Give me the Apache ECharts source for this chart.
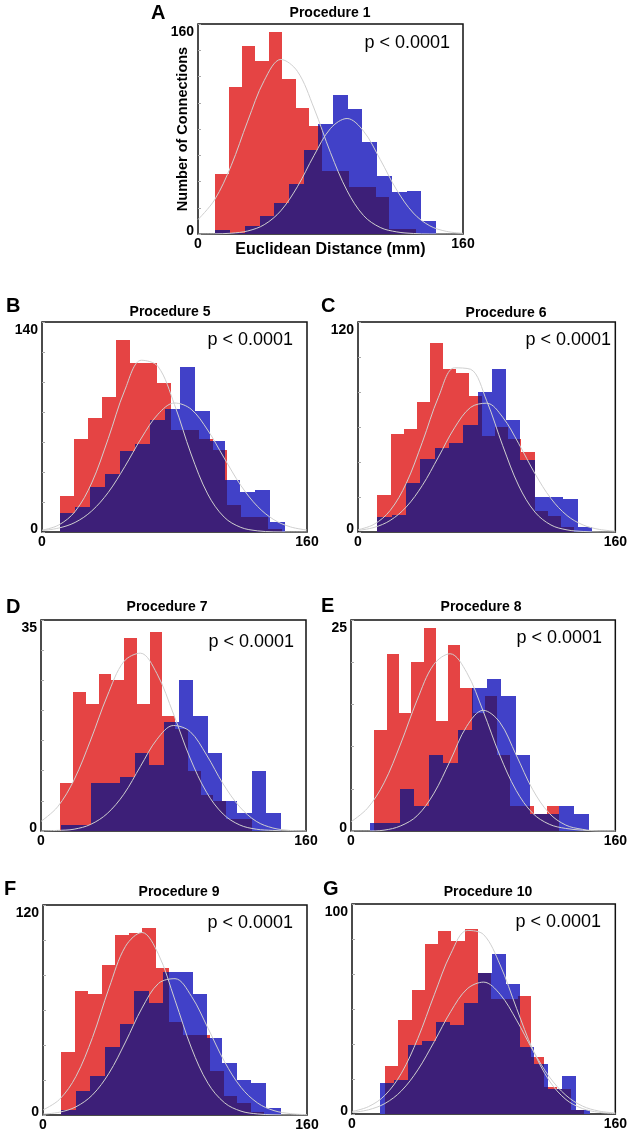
<!DOCTYPE html>
<html>
<head>
<meta charset="utf-8">
<script src="https://cdn.jsdelivr.net/npm/echarts@6/dist/echarts.min.js"></script>
<style>html,body{margin:0;padding:0;background:#fff}#c{width:630px;height:1148px}</style>
</head>
<body>
<div id="c"></div>
<script>
// ---------- data ----------
const fitX = [0,10,20,30,40,50,60,70,80,90,100,110,120,130,140,150,160];

// Procedure 1
const p1RedBin = [10.5, 8.07];
const p1Red = [46,112,143,132,154,118,96,82,48,48,36,36,28,4,4];
const p1BlueBin = [10.5, 8.88];
const p1Blue = [3,1,6,14,24,38,64,84,106,95,70,44,32,33,10];
const p1RedFit = [11,26,52,86,117,133,124,96,62,33,14,5,1.6,0.4,0,0,0];
const p1BlueFit = [0,0.1,0.6,2.3,7.1,17.7,36,59.7,80.4,88,78.3,56.8,33.5,16,6.2,2,0.5];

// Procedure 5
const p5RedBin = [11.1, 8.37];
const p5Red = [24,62,76,90,128,113,113,99.5,68,68,62,55,18,10,10,2];
const p5BlueBin = [11.1, 9.06];
const p5Blue = [13,17,30,39,54,59,75,82,110,81,61,35,27,28,7];
const p5RedFit = [1.2,4.6,13.7,32.7,62.3,94.6,114.5,110.4,84.9,52,25.4,9.9,3.1,0.8,0.1,0,0];
const p5BlueFit = [0.9,2.6,6.4,14,26.4,43.6,62.6,78.5,86,81.9,68,49.3,31.1,17.2,8.2,3.4,1.3];

// Procedure 6
const p6RedBin = [12.1, 8.14];
const p6Red = [21,56,59,74.5,108,93,91,78,55,60,53,46,12,9,3];
const p6BlueBin = [12.1, 8.89];
const p6Blue = [8.6,10,28,41.5,48,50.6,61,80,93,64,41,20,20,19,3];
const p6RedFit = [1.3,4.4,12.3,27.8,51.3,77,93.8,93,75,49.3,26.3,11.4,4,1.2,0.3,0,0];
const p6BlueFit = [0.9,2.6,6.6,14.3,26.6,42.8,59.5,71.2,73.6,65.6,50.4,33.4,19.1,9.4,4,1.5,0.5];

// Procedure 7
const p7RedBin = [11.7, 7.7];
const p7Red = [8,23,21,26,25,32,21,33,19,17,10,6,5,2,2];
const p7BlueBin = [12.3, 8.84];
const p7Blue = [1,1,8,8,9,13,11,18,25,19,13,5,3,10,3];
const p7RedFit = [1.6,4,8.5,15.1,22.4,28.1,29.5,26.1,19.4,12.1,6.4,2.8,1,0.3,0.1,0,0];
const p7BlueFit = [0,0.1,0.3,1.1,2.9,6.1,10.7,15.2,17.5,16.5,12.6,7.8,4,1.6,0.5,0.1,0];

// Procedure 8
const p8RedBin = [14.2, 7.44];
const p8Red = [12,21,14,20,24,13,22,17,14,16,9,3,3,2,3];
const p8BlueBin = [11.8, 8.8];
const p8Blue = [1,1,5,3,9,8,12,17,18,16,9,2,2,3,2];
const p8RedFit = [1.1,2.7,5.7,10.3,15.5,19.7,21,18.8,14.2,9,4.8,2.1,0.8,0.3,0.1,0,0];
const p8BlueFit = [0,0,0.1,0.6,1.8,4.4,8.3,12.4,14.3,12.9,9,4.9,2.1,0.7,0.2,0,0];

// Procedure 9
const p9RedBin = [10.9, 8.21];
const p9Red = [36,71,69,86,103,104,107,84,53,46,46,25,11,7,2];
const p9BlueBin = [10.9, 8.87];
const p9Blue = [3,14,22.5,39,52,71,64,82,82,69,44,29.5,20,18.5,4];
const p9RedFit = [2.9,8.9,22.1,44.3,72.5,96.4,104.3,91.8,65.6,38.2,18.1,7,2.2,0.6,0.1,0,0];
const p9BlueFit = [0.5,1.6,4.7,11.5,23.9,41.7,61.1,75.2,77.9,67.8,49.6,30.5,15.8,6.9,2.5,0.8,0.2];

// Procedure 10
const p10RedBin = [20.1, 8.05];
const p10Red = [23,45,59,81,87,82.5,88,67,55,55,56,27,13,12,2];
const p10BlueBin = [17.1, 8.49];
const p10Blue = [15,16,33,35,44,42.5,53,67,76,62,32,24,12,18,2];
const p10RedFit = [1.2,3.5,8.9,19.4,36,56.8,76.3,87.4,85.4,71,50.3,30.4,15.7,6.9,2.6,0.8,0.2];
const p10BlueFit = [0.7,2,5,11,21,34.5,48.8,59.6,62.8,57,44.7,30.2,17.6,8.9,3.8,1.4,0.5];

const titles = ['Procedure 1','Procedure 5','Procedure 6','Procedure 7','Procedure 8','Procedure 9','Procedure 10'];
const letters = ['A','B','C','D','E','F','G'];
const yMax = [160,140,120,35,25,120,100];
const yStep = [20,20,20,5,5,20,100/6];
const pText = 'p < 0.0001';

// ---------- layout ----------
const panels = [
  {d:[p1RedBin,p1Red,p1BlueBin,p1Blue,p1RedFit,p1BlueFit], g:[198,24,265,210], letter:[151,3], title:[330,13], p:[450,43]},
  {d:[p5RedBin,p5Red,p5BlueBin,p5Blue,p5RedFit,p5BlueFit], g:[42,322,265,210], letter:[6,296], title:[170,312], p:[293,340]},
  {d:[p6RedBin,p6Red,p6BlueBin,p6Blue,p6RedFit,p6BlueFit], g:[358,322,264,210], letter:[321,296], title:[506,313], p:[611,340]},
  {d:[p7RedBin,p7Red,p7BlueBin,p7Blue,p7RedFit,p7BlueFit], g:[41,620,265,211], letter:[6,597], title:[167,607], p:[294,642]},
  {d:[p8RedBin,p8Red,p8BlueBin,p8Blue,p8RedFit,p8BlueFit], g:[351,620,266,211], letter:[321,596], title:[481,607], p:[602,638]},
  {d:[p9RedBin,p9Red,p9BlueBin,p9Blue,p9RedFit,p9BlueFit], g:[43,905,264,210], letter:[4,879], title:[179,892], p:[293,923]},
  {d:[p10RedBin,p10Red,p10BlueBin,p10Blue,p10RedFit,p10BlueFit], g:[352,904,265,210], letter:[323,879], title:[488,892], p:[601,922]}
];

const RED = '#e54444', BLUE = '#4141c8', PURPLE = '#3d1f78', FIT = '#cfcfcf';
const FONT = '"Liberation Sans", Arial, Helvetica, sans-serif';

function toBars(bin, vals) {
  return vals.map((v, i) => [bin[0] + i * bin[1], bin[0] + (i + 1) * bin[1], v]);
}
function overlap(rb, r, bb, b) {
  const out = [];
  r.forEach((rv, i) => {
    const l1 = rb[0] + i * rb[1], r1 = l1 + rb[1];
    b.forEach((bv, j) => {
      const l2 = bb[0] + j * bb[1], r2 = l2 + bb[1];
      const lo = Math.max(l1, l2), hi = Math.min(r1, r2);
      if (hi > lo) out.push([lo, hi, Math.min(rv, bv)]);
    });
  });
  return out;
}
function rectRender(color) {
  return function (params, api) {
    const a = api.coord([api.value(0), 0]);
    const c = api.coord([api.value(1), api.value(2)]);
    const x0 = Math.round(a[0]), x1 = Math.round(c[0]);
    const y0 = Math.round(a[1]), y1 = Math.round(c[1]);
    return {type: 'rect', shape: {x: x0, y: y1, width: x1 - x0, height: y0 - y1},
      style: {fill: color}};
  };
}

const grid = [], xAxis = [], yAxis = [], series = [], graphic = [];
panels.forEach((p, k) => {
  const [rb, r, bb, b, rf, bf] = p.d;
  grid.push({left: p.g[0], top: p.g[1], width: p.g[2], height: p.g[3], show: true,
    borderColor: '#111', borderWidth: 1.5, backgroundColor: 'transparent'});
  const xa = {type: 'value', gridIndex: k, min: 0, max: 160, interval: 160,
    axisLine: {show: false}, axisTick: {show: false}, splitLine: {show: false},
    axisLabel: {margin: 3, color: '#000', fontWeight: 'bold', fontSize: 14, fontFamily: FONT}};
  const M = yMax[k];
  const ya = {type: 'value', gridIndex: k, min: 0, max: M, interval: yStep[k],
    axisLine: {show: false}, splitLine: {show: false},
    axisTick: {show: true, inside: true, length: 3, lineStyle: {color: '#aaa', width: 1}},
    axisLabel: {margin: 4, color: '#000', fontWeight: 'bold', fontSize: 14, fontFamily: FONT,
      formatter: v => Math.abs(v - M) < 1e-6 ? '{t|' + M + '}' : (v === 0 ? '{b|0}' : ''),
      rich: {
        t: {padding: [16, 0, 0, 0], fontWeight: 'bold', fontSize: 14, fontFamily: FONT, color: '#000'},
        b: {padding: [0, 0, 6, 0], fontWeight: 'bold', fontSize: 14, fontFamily: FONT, color: '#000'}
      }}};
  if (k === 0) {
    xa.name = 'Euclidean Distance (mm)';
    xa.nameLocation = 'middle';
    xa.nameGap = 8;
    xa.nameMoveOverlap = false;
    xa.nameTextStyle = {fontWeight: 'bold', fontSize: 16, fontFamily: FONT, color: '#000'};
    ya.name = 'Number of Connections';
    ya.nameLocation = 'middle';
    ya.nameGap = 8;
    ya.nameMoveOverlap = false;
    ya.nameTextStyle = {fontWeight: 'bold', fontSize: 14.5, fontFamily: FONT, color: '#000'};
  }
  xAxis.push(xa); yAxis.push(ya);
  const common = {type: 'custom', xAxisIndex: k, yAxisIndex: k, encode: {x: [0, 1], y: 2}, clip: true, silent: true};
  series.push(Object.assign({}, common, {data: toBars(rb, r), renderItem: rectRender(RED)}));
  series.push(Object.assign({}, common, {data: toBars(bb, b), renderItem: rectRender(BLUE)}));
  series.push(Object.assign({}, common, {data: overlap(rb, r, bb, b), renderItem: rectRender(PURPLE)}));
  [rf, bf].forEach(f => series.push({type: 'line', xAxisIndex: k, yAxisIndex: k, smooth: 0.35,
    symbol: 'none', silent: true, clip: true,
    lineStyle: {color: FIT, width: 1}, data: fitX.map((x, i) => [x, f[i]])}));
  graphic.push({type: 'text', x: p.letter[0], y: p.letter[1],
    style: {text: letters[k], font: 'bold 20px ' + FONT, fill: '#000'}});
  graphic.push({type: 'text', x: p.title[0], y: p.title[1],
    style: {text: titles[k], font: 'bold 14px ' + FONT, fill: '#000', align: 'center', verticalAlign: 'middle'}});
  graphic.push({type: 'text', x: p.p[0], y: p.p[1],
    style: {text: pText, font: '18px ' + FONT, fill: '#000', align: 'right', verticalAlign: 'middle'}});
});

const chart = echarts.init(document.getElementById('c'), null, {renderer: 'canvas'});
chart.setOption({animation: false, backgroundColor: '#fff', grid, xAxis, yAxis, series, graphic});
</script>
</body>
</html>
